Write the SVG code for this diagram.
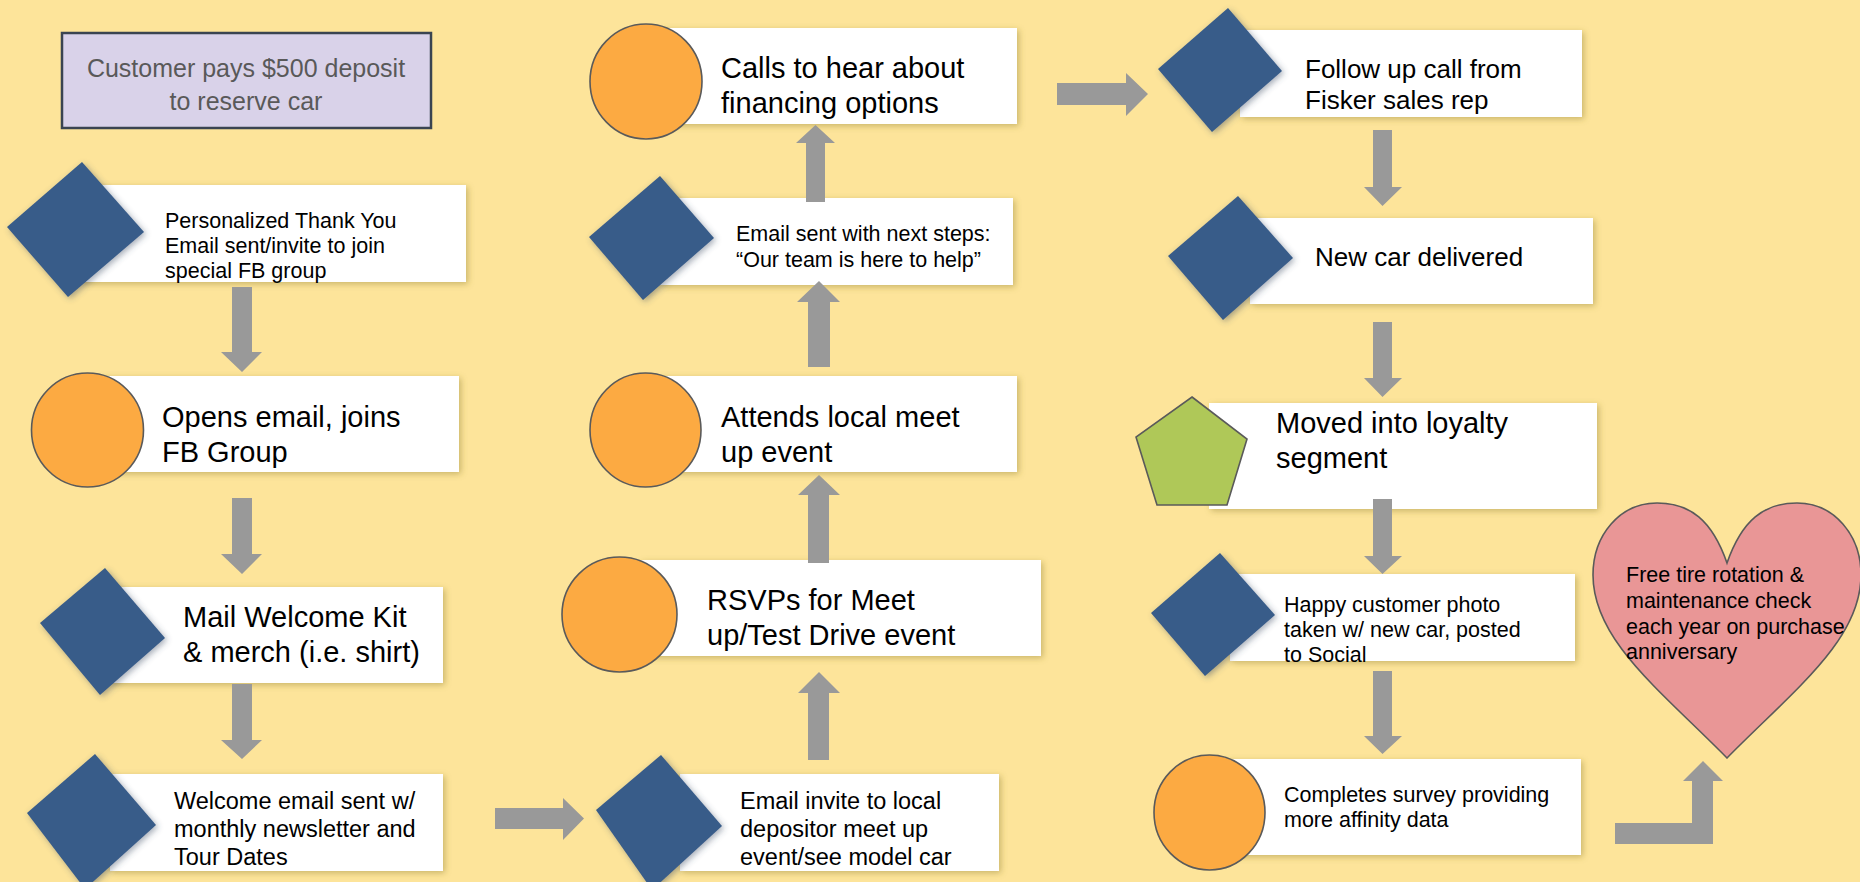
<svg xmlns="http://www.w3.org/2000/svg" width="1860" height="882" viewBox="0 0 1860 882">
<defs>
<filter id="boxsh" x="-10%" y="-20%" width="120%" height="140%">
<feDropShadow dx="2" dy="2" stdDeviation="3" flood-color="#8a7a2a" flood-opacity="0.45"/>
</filter>
<filter id="dsh" x="-20%" y="-20%" width="140%" height="140%">
<feDropShadow dx="2" dy="2" stdDeviation="3" flood-color="#3a4a60" flood-opacity="0.45"/>
</filter>
<style>
.box{fill:#ffffff;filter:url(#boxsh)}
.dia{fill:#375B89;filter:url(#dsh)}
.circ{fill:#FCAA42;stroke:#5a5a5a;stroke-width:1.6}
.arr{fill:#999999}
text{font-family:"Liberation Sans",Arial,sans-serif;fill:#000000}
.t21{font-size:21.5px}
.t23{font-size:23.5px}
.t26{font-size:26px}
.t29{font-size:29px}
</style>
</defs>
<rect x="0" y="0" width="1860" height="882" fill="#FDE49A"/>

<g id="n-deposit">
<rect x="62" y="33" width="369" height="95" fill="#D9D2E9" stroke="#3A4451" stroke-width="2.5"/>
<text x="246" y="77" text-anchor="middle" style="font-size:25px;fill:#595959">Customer pays $500 deposit</text>
<text x="246" y="110" text-anchor="middle" style="font-size:25px;fill:#595959">to reserve car</text>
</g>

<g id="n-thankyou">
<rect class="box" x="80" y="185" width="386" height="97"/>
<polygon class="dia" points="82,162 144,232 68,297 7,227"/>
<text class="t21" x="165" y="228">Personalized Thank You</text>
<text class="t21" x="165" y="253">Email sent/invite to join</text>
<text class="t21" x="165" y="278">special FB group</text>
</g>

<g id="n-opens">
<rect class="box" x="100" y="376" width="359" height="96"/>
<ellipse class="circ" cx="87.5" cy="430" rx="56" ry="57"/>
<text class="t29" x="162" y="427">Opens email, joins</text>
<text class="t29" x="162" y="462">FB Group</text>
</g>

<g id="n-mail">
<rect class="box" x="110" y="587" width="333" height="96"/>
<polygon class="dia" points="105,568 165,638 100,695 40,623"/>
<text class="t29" x="183" y="627">Mail Welcome Kit</text>
<text class="t29" x="183" y="662">&amp; merch (i.e. shirt)</text>
</g>

<g id="n-welcome">
<rect class="box" x="110" y="774" width="333" height="97"/>
<polygon class="dia" points="95,754 156,825 85,889 27,813"/>
<text class="t23" x="174" y="809">Welcome email sent w/</text>
<text class="t23" x="174" y="837">monthly newsletter and</text>
<text class="t23" x="174" y="865">Tour Dates</text>
</g>

<g id="n-invite">
<rect class="box" x="680" y="774" width="319" height="97"/>
<polygon class="dia" points="661,755 722,826 652,890 596,810"/>
<text class="t23" x="740" y="809">Email invite to local</text>
<text class="t23" x="740" y="837">depositor meet up</text>
<text class="t23" x="740" y="865">event/see model car</text>
</g>

<g id="n-rsvp">
<rect class="box" x="640" y="560" width="401" height="96"/>
<ellipse class="circ" cx="619.5" cy="614.5" rx="57.5" ry="57.5"/>
<text class="t29" x="707" y="610">RSVPs for Meet</text>
<text class="t29" x="707" y="645">up/Test Drive event</text>
</g>

<g id="n-attends">
<rect class="box" x="660" y="376" width="357" height="96"/>
<ellipse class="circ" cx="645.5" cy="430" rx="55.5" ry="57"/>
<text class="t29" x="721" y="427">Attends local meet</text>
<text class="t29" x="721" y="462">up event</text>
</g>

<g id="n-nextsteps">
<rect class="box" x="660" y="198" width="353" height="87"/>
<polygon class="dia" points="660,176 714,238 643,300 589,237"/>
<text class="t21" x="736" y="241">Email sent with next steps:</text>
<text class="t21" x="736" y="267">“Our team is here to help”</text>
</g>

<g id="n-calls">
<rect class="box" x="660" y="28" width="357" height="96"/>
<ellipse class="circ" cx="646" cy="81.5" rx="56" ry="57.5"/>
<text class="t29" x="721" y="78">Calls to hear about</text>
<text class="t29" x="721" y="113">financing options</text>
</g>

<g id="n-followup">
<rect class="box" x="1240" y="30" width="342" height="87"/>
<polygon class="dia" points="1228,8 1282,71 1212,132 1158,69"/>
<text class="t26" x="1305" y="78">Follow up call from</text>
<text class="t26" x="1305" y="109">Fisker sales rep</text>
</g>

<g id="n-delivered">
<rect class="box" x="1250" y="218" width="343" height="86"/>
<polygon class="dia" points="1238,196 1293,258 1223,320 1168,256"/>
<text class="t26" x="1315" y="266">New car delivered</text>
</g>

<g id="n-loyalty">
<rect class="box" x="1209" y="403" width="388" height="106"/>
<polygon points="1192,397 1247,439 1227,505 1157,505 1136,437" fill="#AFC858" stroke="#5a5a5a" stroke-width="1.6"/>
<text class="t29" x="1276" y="433">Moved into loyalty</text>
<text class="t29" x="1276" y="468">segment</text>
</g>

<g id="n-photo">
<rect class="box" x="1230" y="574" width="345" height="87"/>
<polygon class="dia" points="1220,553 1275,615 1205,676 1151,613"/>
<text class="t21" x="1284" y="612">Happy customer photo</text>
<text class="t21" x="1284" y="637">taken w/ new car, posted</text>
<text class="t21" x="1284" y="662">to Social</text>
</g>

<g id="n-survey">
<rect class="box" x="1225" y="759" width="356" height="96"/>
<ellipse class="circ" cx="1209.5" cy="812.5" rx="55.5" ry="57.5"/>
<text class="t21" x="1284" y="802">Completes survey providing</text>
<text class="t21" x="1284" y="827">more affinity data</text>
</g>

<g id="n-heart">
<path d="M1727,563 C1712,520 1690,503 1657,503 C1620,503 1593,535 1593,575 C1593,640 1660,690 1727,758 C1794,690 1861,640 1861,575 C1861,535 1834,503 1797,503 C1764,503 1742,520 1727,563 Z" fill="#E99696" stroke="#5a5a5a" stroke-width="1.6"/>
<text class="t21" x="1626" y="582">Free tire rotation &amp;</text>
<text class="t21" x="1626" y="608">maintenance check</text>
<text class="t21" x="1626" y="634">each year on purchase</text>
<text class="t21" x="1626" y="659">anniversary</text>
</g>

<g id="connectors">
<polygon class="arr" points="232,287 252,287 252,352 262,352 242,372 221,352 232,352"/>
<polygon class="arr" points="232,498 252,498 252,554 262,554 242,574 221,554 232,554"/>
<polygon class="arr" points="232,684 252,684 252,740 262,740 242,759 221,740 232,740"/>
<polygon class="arr" points="495,808 563,808 563,798 584,818.5 563,840 563,829 495,829"/>
<polygon class="arr" points="808,760 829,760 829,693 840,693 819,672 798,693 808,693"/>
<polygon class="arr" points="808,563 829,563 829,495 840,495 819,475 798,495 808,495"/>
<polygon class="arr" points="808,367 830,367 830,302 840,302 819,281 797,302 808,302"/>
<polygon class="arr" points="806,202 825,202 825,143 835,143 815.5,125 796,143 806,143"/>
<polygon class="arr" points="1057,83 1126,83 1126,73 1148,94 1126,116 1126,105 1057,105"/>
<polygon class="arr" points="1373,130 1392,130 1392,187 1402,187 1382.5,206 1364,187 1373,187"/>
<polygon class="arr" points="1373,322 1392,322 1392,378 1402,378 1382.5,397 1364,378 1373,378"/>
<polygon class="arr" points="1373,499 1392,499 1392,556 1402,556 1382.5,574 1364,556 1373,556"/>
<polygon class="arr" points="1373,671 1392,671 1392,736 1402,736 1382.5,754 1364,736 1373,736"/>
<polygon class="arr" points="1615,823 1692,823 1692,781 1683,781 1703,761 1723,781 1713,781 1713,844 1615,844"/>
</g>
</svg>
